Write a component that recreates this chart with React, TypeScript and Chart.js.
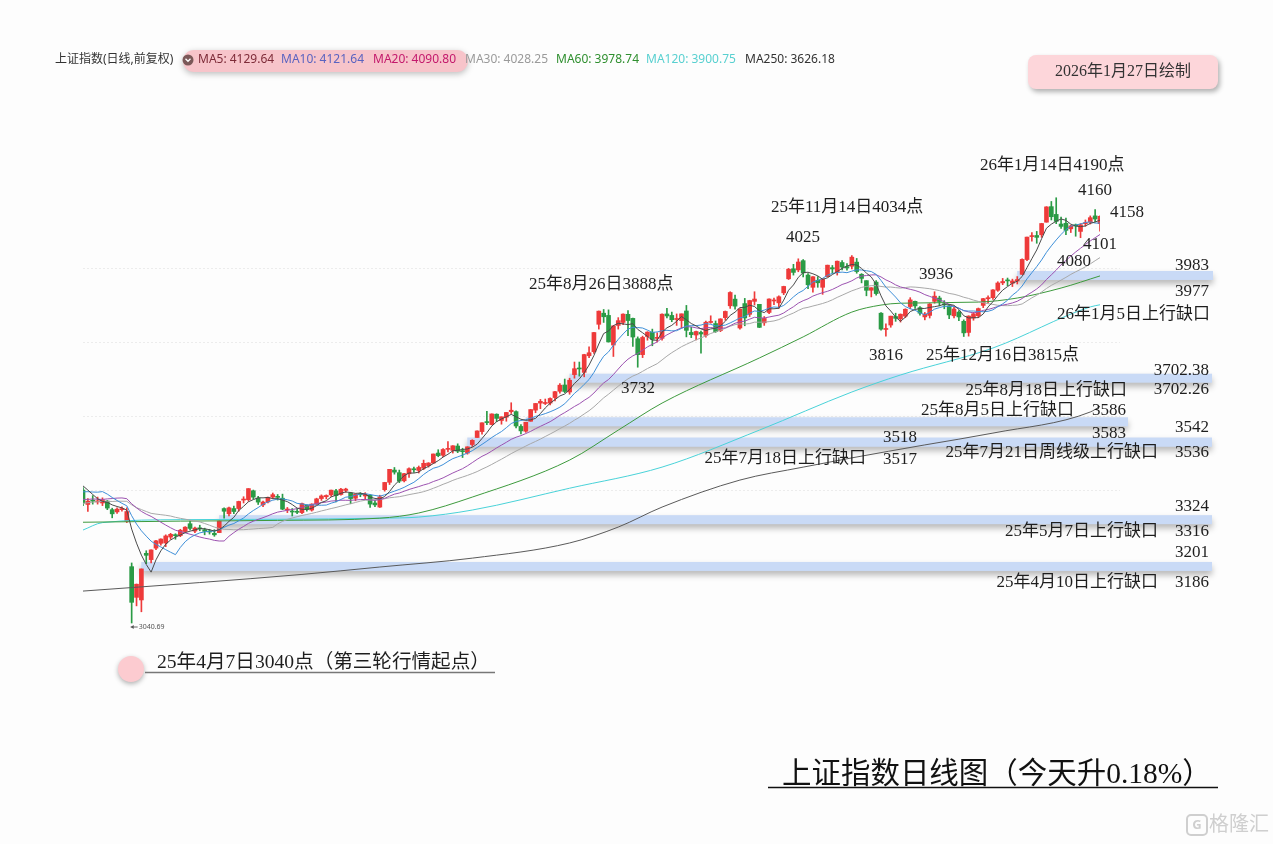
import React, { useEffect, useRef } from 'react';
import { Chart, registerables } from 'chart.js';
Chart.register(...registerables);

// ---------- data ----------
const dates = [
  '25/03/21','25/03/24','25/03/25','25/03/26','25/03/27','25/03/28','25/03/31','25/04/01','25/04/02','25/04/03',
  '25/04/07','25/04/08','25/04/09','25/04/10','25/04/11','25/04/14','25/04/15','25/04/16','25/04/17','25/04/18','25/04/21','25/04/22','25/04/23','25/04/24','25/04/25','25/04/28','25/04/29','25/04/30',
  '25/05/06','25/05/07','25/05/08','25/05/09','25/05/12','25/05/13','25/05/14','25/05/15','25/05/16','25/05/19','25/05/20','25/05/21','25/05/22','25/05/23','25/05/26','25/05/27','25/05/28','25/05/29','25/05/30',
  '25/06/03','25/06/04','25/06/05','25/06/06','25/06/09','25/06/10','25/06/11','25/06/12','25/06/13','25/06/16','25/06/17','25/06/18','25/06/19','25/06/20','25/06/23','25/06/24','25/06/25','25/06/26','25/06/27','25/06/30',
  '25/07/01','25/07/02','25/07/03','25/07/04','25/07/07','25/07/08','25/07/09','25/07/10','25/07/11','25/07/14','25/07/15','25/07/16','25/07/17','25/07/18','25/07/21','25/07/22','25/07/23','25/07/24','25/07/25','25/07/28','25/07/29','25/07/30','25/07/31',
  '25/08/01','25/08/04','25/08/05','25/08/06','25/08/07','25/08/08','25/08/11','25/08/12','25/08/13','25/08/14','25/08/15','25/08/18','25/08/19','25/08/20','25/08/21','25/08/22','25/08/25','25/08/26','25/08/27','25/08/28','25/08/29',
  '25/09/01','25/09/02','25/09/03','25/09/04','25/09/05','25/09/08','25/09/09','25/09/10','25/09/11','25/09/12','25/09/15','25/09/16','25/09/17','25/09/18','25/09/19','25/09/22','25/09/23','25/09/24','25/09/25','25/09/26','25/09/29','25/09/30',
  '25/10/09','25/10/10','25/10/13','25/10/14','25/10/15','25/10/16','25/10/17','25/10/20','25/10/21','25/10/22','25/10/23','25/10/24','25/10/27','25/10/28','25/10/29','25/10/30','25/10/31',
  '25/11/03','25/11/04','25/11/05','25/11/06','25/11/07','25/11/10','25/11/11','25/11/12','25/11/13','25/11/14','25/11/17','25/11/18','25/11/19','25/11/20','25/11/21','25/11/24','25/11/25','25/11/26','25/11/27','25/11/28',
  '25/12/01','25/12/02','25/12/03','25/12/04','25/12/05','25/12/08','25/12/09','25/12/10','25/12/11','25/12/12','25/12/15','25/12/16','25/12/17','25/12/18','25/12/19','25/12/22','25/12/23','25/12/24','25/12/25','25/12/26','25/12/29','25/12/30','25/12/31',
  '26/01/05','26/01/06','26/01/07','26/01/08','26/01/09','26/01/12','26/01/13','26/01/14','26/01/15','26/01/16','26/01/19','26/01/20','26/01/21','26/01/22','26/01/23','26/01/26','26/01/27',
];

const opens = [
  3400,3361,3372,3368,3365,3370,3347,3341,3347,3316,
  3193,3110,3103,3229,3212,3243,3256,3257,3273,3278,3277,3288,3309,3289,3298,3293,3287,3283,
  3285,3350,3336,3350,3350,3373,3374,3398,3378,3360,3368,3381,3383,3378,3346,3343,3342,3339,3359,
  3346,3362,3377,3382,3387,3398,3388,3399,3392,3378,3388,3384,3386,3365,3354,3401,3421,3454,3447,3425,
  3444,3455,3453,3459,3466,3473,3500,3494,3510,3507,3519,3504,3500,3523,3542,3558,3584,3577,3605,3588,3597,3612,3612,
  3572,3559,3586,3616,3635,3634,3635,3650,3667,3684,3665,3712,3730,3718,3763,3774,3848,3878,3872,3792,3845,
  3853,3875,3864,3809,3766,3815,3826,3810,3810,3876,3872,3861,3858,3884,3826,3819,3826,3818,3853,3850,3831,3866,
  3898,3916,3838,3904,3875,3910,3902,3852,3880,3911,3906,3933,3971,3998,3995,4020,3981,
  3948,3967,3948,3977,4001,3990,4015,4004,4005,4016,3983,3966,3940,3962,3878,3834,3846,3869,3863,3870,
  3896,3910,3893,3868,3872,3910,3919,3903,3898,3871,3881,3856,3826,3865,3871,3899,3917,3920,3940,3960,3966,3959,3965,
  3983,4023,4085,4088,4090,4124,4166,4145,4119,4121,4106,4117,4099,4120,4124,4141,4120,
];

const highs = [
  3407,3377,3385,3381,3379,3372,3351,3352,3355,3352,
  3203,3146,3186.81,3236,3238.5,3264,3268,3279,3283,3282,3294,3301,3316,3300,3305,3297,3294,3293,
  3316.5,3352,3354,3357,3370,3382,3404,3400,3383,3370,3381,3392,3388,3389,3353,3350,3350,3365,3360,
  3363,3378,3387,3387,3400,3402,3405,3405,3394,3390,3393,3393,3388,3372,3386,3421,3456,3461,3454,3445,
  3460,3462,3465,3481,3474,3497.5,3509,3512,3531,3520,3525,3513,3517,3536,3560,3582,3613,3606,3606,3598,3610,3636,3614,
  3577,3583,3618,3634,3645,3646,3649,3667,3688,3700,3702.26,3746,3746,3767,3787,3826,3884,3888,3887,3845,3866,
  3876,3885,3865,3814,3816,3828,3835,3825,3876,3891,3881,3876,3876,3899,3840,3830,3830,3857,3871,3857,3863,3884,
  3936,3927,3890,3918,3913,3936,3902,3869,3917,3919,3925,3951,3999,4010,4025,4023,3985,
  3977,3977,3972,4008,4007,4019,4020,4012,4034,4026,3985,3966,3947,3966,3880,3849,3870,3878,3876,3890,
  3920,3911,3896,3880,3904,3936,3924,3912,3902,3894,3885,3860,3871,3880,3892,3918,3925,3942,3963,3972,3973,3970,3977,
  4025,4084,4096,4099,4121,4166,4180,4190,4138,4135,4116,4119,4120,4130,4141,4158,4141,
];

const lows = [
  3358,3342,3362,3362,3358,3347,3325,3337,3343,3312,
  3040.69,3087,3071,3201,3203,3239,3251,3247,3267,3267,3274,3286,3292,3285,3290,3279,3281,3275,
  3285,3324,3330,3336,3343,3365,3370,3376,3361,3355,3365,3377,3373,3347,3339,3330,3336,3336,3343,
  3343,3361,3372,3376,3383,3368,3386,3394,3363,3371,3382,3374,3353,3355,3353,3397,3415,3443,3420,3422,
  3434,3448,3446,3455,3462,3472,3490,3490,3503,3500,3501,3488,3497,3518,3542,3551,3577,3576,3585,3578,3586,3607,3568,
  3552,3556,3586,3609,3620,3631,3630,3641,3662,3663,3659,3702.38,3708,3706,3758,3769,3835,3853,3800,3761,3835,
  3847,3817,3788,3732,3758,3805,3790,3800,3805,3865,3855,3845,3838,3814,3812,3806,3770,3813,3851,3826,3828,3859,
  3891,3889,3835,3844,3869,3900,3839,3845,3877,3901,3891,3928,3969,3981,3990,3976,3944,
  3935,3948,3929,3976,3986,3981,3995,3994,3998,3986,3960,3925,3922,3927,3832,3816,3840,3856,3854,3866,
  3890,3891,3873,3860,3865,3905,3898,3890,3863,3865,3858,3815,3816,3859,3866,3893,3906,3915,3937,3955,3952,3950,3957,
  3983,4020,4073,4067,4083,4124,4130,4120,4107,4090,4096,4086,4082,4113,4119,4125,4100,
];

const closes = [
  3364.83,3370.03,3369.98,3368.70,3373.75,3351.31,3335.75,3348.44,3350.13,3342.01,
  3096.58,3145.55,3186.81,3223.64,3238.23,3262.81,3267.66,3276.00,3280.34,3276.73,3291.43,3299.76,3296.36,3297.29,3295.06,3288.41,3286.65,3279.03,
  3316.11,3342.67,3352.00,3342.00,3369.24,3374.87,3403.95,3380.82,3367.46,3367.58,3380.48,3387.57,3380.19,3348.37,3346.84,3340.69,3339.93,3363.45,3347.49,
  3361.98,3376.20,3384.10,3385.36,3399.77,3384.82,3402.32,3402.66,3377.00,3388.81,3387.40,3388.81,3362.11,3359.90,3381.58,3420.57,3455.97,3448.45,3424.23,3444.43,
  3457.75,3454.79,3461.15,3472.32,3473.13,3497.48,3493.05,3509.68,3510.18,3519.65,3505.00,3503.78,3516.83,3534.48,3559.79,3581.86,3582.30,3605.73,3593.66,3597.94,3609.71,3615.72,3573.21,
  3559.95,3583.31,3617.60,3633.99,3639.67,3635.13,3647.55,3665.92,3683.46,3666.44,3696.77,3728.03,3727.29,3766.21,3771.10,3825.76,3883.56,3868.38,3800.35,3843.60,3857.93,
  3875.53,3858.13,3813.56,3765.88,3812.51,3826.84,3807.29,3812.22,3875.31,3870.60,3860.50,3861.87,3876.34,3831.66,3820.09,3828.58,3821.83,3853.64,3853.30,3828.11,3862.53,3882.78,
  3933.97,3897.03,3889.50,3865.23,3912.21,3916.23,3839.76,3863.89,3916.33,3913.76,3922.41,3950.31,3996.94,3988.22,4016.33,3986.90,3954.79,
  3976.52,3960.19,3969.25,4007.76,3997.56,4018.60,4002.76,4000.14,4029.50,3990.49,3972.03,3939.81,3946.74,3931.05,3834.89,3836.77,3870.02,3864.18,3875.26,3888.60,
  3914.01,3897.71,3878.00,3875.79,3902.81,3924.08,3909.52,3900.50,3873.32,3889.35,3867.92,3824.81,3870.28,3876.37,3890.45,3917.36,3919.98,3940.95,3959.62,3963.68,3965.28,3965.12,3968.84,
  4023.42,4083.67,4085.77,4082.98,4120.43,4165.29,4138.76,4126.09,4112.60,4101.91,4114.00,4113.65,4116.94,4122.58,4136.16,4132.61,4139.90,
];

// closes before the visible window (Feb 10 – Mar 20, 2025), used only for the moving averages
const leadCloses = [
  3322.17,3318.06,3346.39,3332.48,3346.72,3355.83,3324.49,3351.54,3350.78,3379.11,3373.03,3346.04,3380.21,3388.06,3320.90,
  3316.93,3324.21,3341.96,3381.10,3372.55,3366.16,3379.83,3371.92,3358.73,3419.56,3426.13,3429.76,3426.43,3408.95,
];

// long moving averages: [candle index, value]
const ma60Read: [number, number][] = [
  [0, 3313], [20, 3316], [40, 3318], [61, 3324], [69, 3338], [80, 3381], [100, 3481], [110, 3562], [119, 3635],
  [139, 3757], [148, 3814], [158, 3881], [164, 3900], [168, 3905], [184, 3908], [192, 3919], [201, 3946], [209, 3978.74],
];
const ma120Read: [number, number][] = [
  [0, 3292], [4, 3312], [20, 3320], [40, 3321], [61, 3324], [69, 3327], [80, 3346], [100, 3405], [119, 3462],
  [139, 3562], [158, 3665], [168, 3711], [187, 3784], [207, 3895], [209, 3900.75],
];
const ma250Read: [number, number][] = [
  [0, 3127], [24, 3150], [45, 3172], [61, 3192], [80, 3216], [100, 3257], [110, 3300], [119, 3354], [135, 3427],
  [148, 3462], [158, 3487], [173, 3522], [187, 3554], [207, 3611], [209, 3626.18],
];

const maNames = ['MA5', 'MA10', 'MA20', 'MA30', 'MA60', 'MA120', 'MA250'];
const maValues = ['4129.64', '4121.64', '4090.80', '4028.25', '3978.74', '3900.75', '3626.18'];

// gap bands: low, high, candle index where the gap opens
const gapLows = [3977, 3702.26, 3583, 3517, 3316, 3186];
const gapHighs = [3983, 3702.38, 3586, 3542, 3324, 3201];
const gapIndex = [193, 101, 92, 80, 29, 13];

const gridValues = [3400, 3600, 3800, 4000];

// ---------- styles / layout ----------
const RED = '#ee3a3a';
const GREEN = '#2a9b45';
const MA_LINE_COLORS = ['#4a4a4a', '#3e8fd8', '#9c52b0', '#a8a8a8', '#3d9a3d', '#49d2d8', '#5a5a5a'];
const MA_TEXT_COLORS = ['#7d2b38', '#5a63c0', '#c3196c', '#9a9a9a', '#2f8f2f', '#58d0d0', '#333333'];
const MA_TEXT_X = [198, 281, 373, 465, 556, 646, 745];
const GAP_END_X = [1213, 1212, 1128, 1212, 1212, 1212];
const SERIF = '"Liberation Serif", "Noto Sans CJK SC", serif';
const SANS = '"Noto Sans", "Noto Sans CJK SC", sans-serif';

type Lbl = [string, number, number, CanvasTextAlign];
const labels: Lbl[] = [
  ['26年1月14日4190点', 980, 166, 'left'],
  ['4160', 1078, 191, 'left'],
  ['4158', 1110, 213, 'left'],
  ['25年11月14日4034点', 771, 208, 'left'],
  ['4025', 786, 238, 'left'],
  ['4101', 1083, 245, 'left'],
  ['4080', 1057, 262, 'left'],
  ['3983', 1209, 266, 'right'],
  ['3936', 919, 275, 'left'],
  ['25年8月26日3888点', 529, 285, 'left'],
  ['3977', 1209, 292, 'right'],
  ['26年1月5日上行缺口', 1210, 315, 'right'],
  ['3816', 869, 356, 'left'],
  ['25年12月16日3815点', 926, 356, 'left'],
  ['3702.38', 1209, 371, 'right'],
  ['3732', 621, 389, 'left'],
  ['25年8月18日上行缺口', 1127, 391, 'right'],
  ['3702.26', 1209, 390, 'right'],
  ['25年8月5日上行缺口', 1074, 411, 'right'],
  ['3586', 1126, 411, 'right'],
  ['3542', 1209, 428, 'right'],
  ['3583', 1126, 434, 'right'],
  ['3518', 883, 438, 'left'],
  ['25年7月21日周线级上行缺口', 1158, 453, 'right'],
  ['3536', 1209, 453, 'right'],
  ['25年7月18日上行缺口', 866, 459, 'right'],
  ['3517', 883, 460, 'left'],
  ['3324', 1209, 507, 'right'],
  ['25年5月7日上行缺口', 1158, 532, 'right'],
  ['3316', 1209, 532, 'right'],
  ['3201', 1209, 553, 'right'],
  ['25年4月10日上行缺口', 1158, 583, 'right'],
  ['3186', 1209, 583, 'right'],
];

function sma(n: number): (number | null)[] {
  const all = [...leadCloses, ...closes];
  return closes.map((_, i) => {
    const end = leadCloses.length + i;
    if (end + 1 < n) return null;
    let s = 0;
    for (let k = end - n + 1; k <= end; k++) s += all[k];
    return s / n;
  });
}

function sparse(pts: [number, number][]): (number | null)[] {
  const arr: (number | null)[] = closes.map(() => null);
  pts.forEach(([i, v]) => (arr[i] = v));
  return arr;
}

function fitText(ctx: CanvasRenderingContext2D, s: string, family: string, width: number, base: number) {
  ctx.font = `${base}px ${family}`;
  const w = ctx.measureText(s).width;
  const size = (base * width) / w;
  ctx.font = `${size}px ${family}`;
}

const decor = {
  id: 'decor',
  beforeDraw(chart: any) {
    const ctx = chart.ctx as CanvasRenderingContext2D;
    ctx.save();
    ctx.fillStyle = '#fdfdfd';
    ctx.fillRect(0, 0, chart.width, chart.height);
    ctx.restore();
  },
  beforeDatasetsDraw(chart: any) {
    const ctx = chart.ctx as CanvasRenderingContext2D;
    const x = chart.scales.x;
    const y = chart.scales.y;
    // grid
    ctx.save();
    ctx.strokeStyle = '#ececec';
    ctx.lineWidth = 1;
    ctx.setLineDash([2, 2]);
    gridValues.forEach((v) => {
      const py = Math.round(y.getPixelForValue(v)) + 0.5;
      ctx.beginPath();
      ctx.moveTo(83, py);
      ctx.lineTo(1120, py);
      ctx.stroke();
    });
    ctx.restore();
    // gap bands
    gapLows.forEach((lo, k) => {
      const hi = gapHighs[k];
      const yc = y.getPixelForValue((lo + hi) / 2);
      const h = Math.max(9, Math.abs(y.getPixelForValue(lo) - y.getPixelForValue(hi)));
      const x0 = x.getPixelForValue(gapIndex[k]) - 5;
      const x1 = GAP_END_X[k];
      ctx.save();
      ctx.shadowColor = 'rgba(0,0,0,0.28)';
      ctx.shadowBlur = 6;
      ctx.shadowOffsetY = 4;
      ctx.fillStyle = '#c9daf6';
      ctx.fillRect(x0, yc - h / 2, x1 - x0, h);
      ctx.restore();
    });
  },
  afterDraw(chart: any) {
    const ctx = chart.ctx as CanvasRenderingContext2D;
    const x = chart.scales.x;
    const y = chart.scales.y;

    // legend row
    ctx.save();
    ctx.textBaseline = 'middle';
    ctx.font = `12px ${SANS}`;
    ctx.fillStyle = '#333';
    ctx.fillText('上证指数(日线,前复权)', 55, 60);
    ctx.save();
    ctx.shadowColor = 'rgba(0,0,0,0.25)';
    ctx.shadowBlur = 6;
    ctx.shadowOffsetY = 2;
    ctx.fillStyle = '#f7c4ca';
    ctx.beginPath();
    (ctx as any).roundRect(183, 50, 285, 22, 11);
    ctx.fill();
    ctx.restore();
    ctx.fillStyle = '#7a5858';
    ctx.beginPath();
    ctx.arc(188, 60, 5.5, 0, Math.PI * 2);
    ctx.fill();
    ctx.strokeStyle = '#fff';
    ctx.lineWidth = 1.3;
    ctx.beginPath();
    ctx.moveTo(185.5, 58.8);
    ctx.lineTo(188, 61.3);
    ctx.lineTo(190.5, 58.8);
    ctx.stroke();
    maNames.forEach((n, i) => {
      ctx.fillStyle = MA_TEXT_COLORS[i];
      ctx.fillText(`${n}: ${maValues[i]}`, MA_TEXT_X[i], 60);
    });
    ctx.restore();

    // date box
    ctx.save();
    ctx.shadowColor = 'rgba(0,0,0,0.3)';
    ctx.shadowBlur = 5;
    ctx.shadowOffsetX = 2;
    ctx.shadowOffsetY = 3;
    ctx.fillStyle = '#fdd6da';
    ctx.beginPath();
    (ctx as any).roundRect(1028, 55, 190, 34, 8);
    ctx.fill();
    ctx.restore();
    ctx.save();
    ctx.fillStyle = '#333';
    ctx.textBaseline = 'middle';
    ctx.textAlign = 'center';
    ctx.font = `16px ${SERIF}`;
    ctx.fillText('2026年1月27日绘制', 1123, 72);
    ctx.restore();

    // annotations
    ctx.save();
    ctx.fillStyle = '#1e1e1e';
    ctx.textBaseline = 'middle';
    ctx.font = `17px ${SERIF}`;
    labels.forEach(([s, lx, ly, al]) => {
      ctx.textAlign = al;
      ctx.fillText(s, lx, ly);
    });
    ctx.restore();

    // low marker 3040.69
    const lowIdx = lows.indexOf(Math.min(...lows));
    const lx = x.getPixelForValue(lowIdx);
    const ly = y.getPixelForValue(lows[lowIdx]) + 4;
    ctx.save();
    ctx.strokeStyle = '#666';
    ctx.fillStyle = '#555';
    ctx.lineWidth = 1;
    ctx.beginPath();
    ctx.moveTo(lx - 1, ly);
    ctx.lineTo(lx + 6, ly);
    ctx.stroke();
    ctx.beginPath();
    ctx.moveTo(lx - 1, ly);
    ctx.lineTo(lx + 2, ly - 2);
    ctx.lineTo(lx + 2, ly + 2);
    ctx.fill();
    ctx.font = `7px ${SANS}`;
    ctx.textBaseline = 'middle';
    ctx.fillText(lows[lowIdx].toFixed(2), lx + 7, ly);
    ctx.restore();

    // start-point circle + caption
    ctx.save();
    ctx.shadowColor = 'rgba(0,0,0,0.3)';
    ctx.shadowBlur = 5;
    ctx.shadowOffsetY = 2;
    ctx.fillStyle = '#fccbd0';
    ctx.beginPath();
    ctx.arc(131, 669, 13, 0, Math.PI * 2);
    ctx.fill();
    ctx.restore();
    ctx.save();
    ctx.strokeStyle = '#777';
    ctx.lineWidth = 1.5;
    ctx.beginPath();
    ctx.moveTo(145, 672.5);
    ctx.lineTo(495, 672.5);
    ctx.stroke();
    ctx.fillStyle = '#1e1e1e';
    ctx.textBaseline = 'middle';
    fitText(ctx, '25年4月7日3040点（第三轮行情起点）', SERIF, 333, 16);
    ctx.fillText('25年4月7日3040点（第三轮行情起点）', 157, 663);
    ctx.restore();

    // title
    ctx.save();
    ctx.fillStyle = '#111';
    ctx.textBaseline = 'middle';
    fitText(ctx, '上证指数日线图（今天升0.18%）', SERIF, 430, 26);
    ctx.fillText('上证指数日线图（今天升0.18%）', 782, 775);
    ctx.strokeStyle = '#111';
    ctx.lineWidth = 1.5;
    ctx.beginPath();
    ctx.moveTo(768, 787.5);
    ctx.lineTo(1218, 787.5);
    ctx.stroke();
    ctx.restore();

    // watermark
    ctx.save();
    ctx.strokeStyle = '#cfcfcf';
    ctx.lineWidth = 2;
    ctx.beginPath();
    (ctx as any).roundRect(1187, 815, 20, 20, 4);
    ctx.stroke();
    ctx.fillStyle = '#cfcfcf';
    ctx.font = `bold 13px ${SANS}`;
    ctx.textAlign = 'center';
    ctx.textBaseline = 'middle';
    ctx.fillText('G', 1197, 825);
    ctx.font = `20px ${SANS}`;
    ctx.textAlign = 'left';
    ctx.fillText('格隆汇', 1209, 825);
    ctx.restore();
  },
};

export default function App() {
  const ref = useRef<HTMLCanvasElement | null>(null);
  useEffect(() => {
    if (!ref.current) return;
    const colors = closes.map((c, i) => (c >= opens[i] ? RED : GREEN));
    const maSeries = [sma(5), sma(10), sma(20), sma(30), sparse(ma60Read), sparse(ma120Read), sparse(ma250Read)];
    const lineSets = maSeries.map((d, k) => ({
      type: 'line' as const,
      label: maNames[k],
      data: d,
      borderColor: MA_LINE_COLORS[k],
      borderWidth: 1,
      pointRadius: 0,
      spanGaps: true,
      cubicInterpolationMode: k >= 4 ? ('monotone' as const) : ('default' as const),
      tension: 0,
      order: 0,
    }));
    const chart = new Chart(ref.current, {
      type: 'bar',
      data: {
        labels: dates,
        datasets: [
          ...lineSets,
          {
            type: 'bar',
            label: 'body',
            data: opens.map((o, i) => [o, closes[i]]),
            backgroundColor: colors,
            barThickness: 4,
            minBarLength: 1,
            grouped: false,
            order: 1,
          } as any,
          {
            type: 'bar',
            label: 'wick',
            data: lows.map((l, i) => [l, highs[i]]),
            backgroundColor: colors,
            barThickness: 1,
            grouped: false,
            order: 2,
          } as any,
        ],
      },
      options: {
        responsive: false,
        maintainAspectRatio: false,
        animation: false,
        events: [],
        layout: { padding: { left: 83, right: 173, top: 100, bottom: 144 } },
        plugins: { legend: { display: false }, tooltip: { enabled: false } },
        scales: {
          x: { type: 'category', display: false, offset: false, grid: { display: false } },
          y: { display: false, min: 2832.6, max: 4454.2 },
        },
      },
      plugins: [decor],
    });
    return () => chart.destroy();
  }, []);
  return (
    <div style={{ position: 'absolute', left: 0, top: 0, width: 1273, height: 844 }}>
      <canvas ref={ref} width={1273} height={844} style={{ width: 1273, height: 844 }} />
    </div>
  );
}
